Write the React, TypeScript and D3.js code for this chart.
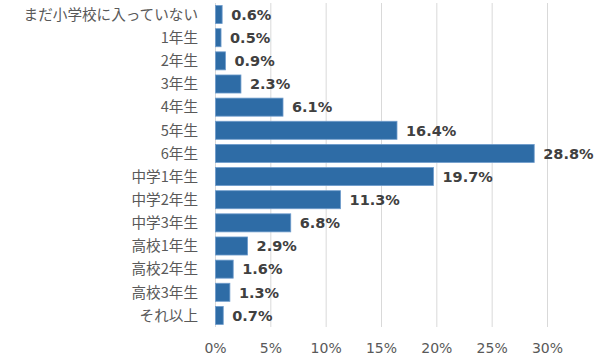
import React, { useEffect, useRef } from "react";
import * as d3 from "d3";

// 学年カテゴリ
const categories = [
  "まだ小学校に入っていない",
  "1年生",
  "2年生",
  "3年生",
  "4年生",
  "5年生",
  "6年生",
  "中学1年生",
  "中学2年生",
  "中学3年生",
  "高校1年生",
  "高校2年生",
  "高校3年生",
  "それ以上",
];
// 割合 (%)
const percents = [0.6, 0.5, 0.9, 2.3, 6.1, 16.4, 28.8, 19.7, 11.3, 6.8, 2.9, 1.6, 1.3, 0.7];
const ticks = [0, 5, 10, 15, 20, 25, 30];

const W = 600;
const H = 362;
const jpFont = "'Noto Sans CJK JP', 'DejaVu Sans', sans-serif";
const numFont = "'DejaVu Sans', 'Noto Sans', sans-serif";

const App = () => {
  const ref = useRef<SVGGElement>(null);

  useEffect(() => {
    if (!ref.current) return;
    const g = d3.select(ref.current);
    g.selectAll("*").remove();

    const x = d3.scaleLinear().domain([0, 30]).range([215.5, 547.5]);
    const y = d3
      .scaleBand<string>()
      .domain(categories)
      .range([3, 327])
      .paddingInner(0.22)
      .paddingOuter(0.11);

    // グリッド線
    g.selectAll("line.grid")
      .data(ticks)
      .enter()
      .append("line")
      .attr("class", "grid")
      .attr("x1", (d) => x(d))
      .attr("x2", (d) => x(d))
      .attr("y1", 3)
      .attr("y2", 327)
      .attr("stroke", "#d9d9d9")
      .attr("stroke-width", 1);

    // 棒
    g.selectAll("rect.bar")
      .data(percents)
      .enter()
      .append("rect")
      .attr("class", "bar")
      .attr("x", x(0))
      .attr("y", (_, i) => y(categories[i])!)
      .attr("width", (d) => x(d) - x(0))
      .attr("height", y.bandwidth())
      .attr("fill", "#2e6ca6")
      .attr("stroke", "#6f9ccc")
      .attr("stroke-width", 0.8);

    // 値ラベル
    g.selectAll("text.val")
      .data(percents)
      .enter()
      .append("text")
      .attr("class", "val")
      .attr("x", (d) => x(d) + 9)
      .attr("y", (_, i) => y(categories[i])! + y.bandwidth() / 2)
      .attr("dy", "0.36em")
      .attr("font-family", numFont)
      .attr("font-weight", "bold")
      .attr("font-size", "14.5px")
      .attr("fill", "#404040")
      .text((d) => d.toFixed(1) + "%");

    // カテゴリラベル
    g.selectAll("text.cat")
      .data(categories)
      .enter()
      .append("text")
      .attr("class", "cat")
      .attr("x", 198)
      .attr("y", (d) => y(d)! + y.bandwidth() / 2)
      .attr("dy", "0.36em")
      .attr("text-anchor", "end")
      .attr("font-family", jpFont)
      .attr("font-size", "14.6px")
      .attr("fill", "#595959")
      .text((d) => d);

    // 目盛ラベル
    g.selectAll("text.tick")
      .data(ticks)
      .enter()
      .append("text")
      .attr("class", "tick")
      .attr("x", (d) => x(d))
      .attr("y", 353)
      .attr("text-anchor", "middle")
      .attr("font-family", numFont)
      .attr("font-size", "14px")
      .attr("fill", "#595959")
      .text((d) => d + "%");
  }, []);

  return (
    <svg
      width={W}
      height={H}
      style={{ position: "absolute", left: 0, top: 0, background: "#fff" }}
    >
      <g ref={ref}></g>
    </svg>
  );
};

export default App;
